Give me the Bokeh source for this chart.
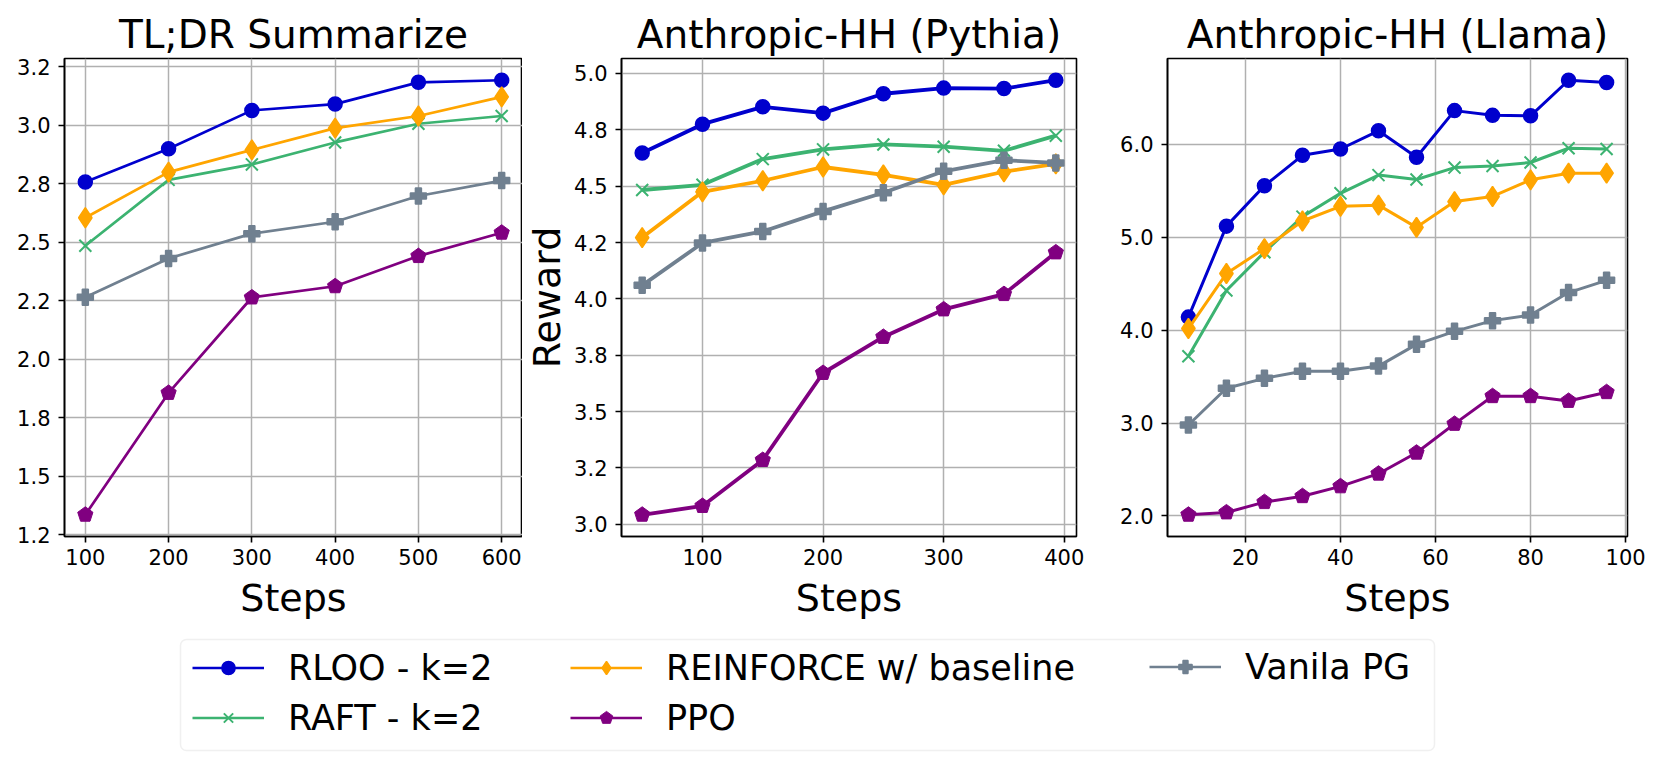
import numpy as np
from bokeh.plotting import figure
from bokeh.layouts import row, column
from bokeh.models import FixedTicker, Legend, LegendItem, BoxAnnotation, Range1d
from bokeh.embed import file_html
from bokeh.resources import INLINE

FONT = "DejaVu Sans"

# ---------------- data ----------------
series_labels = ["RLOO - k=2", "RAFT - k=2", "REINFORCE w/ baseline", "PPO", "Vanila PG"]
series_colors = ["#0000cd", "#3cb371", "#ffa500", "#800080", "#708090"]
series_markers = ["circle", "x", "diamond", "pentagon", "plus"]

tldr_steps = [100, 200, 300, 400, 500, 600]
tldr_rloo = [2.758, 2.900, 3.064, 3.091, 3.184, 3.193]
tldr_raft = [2.485, 2.767, 2.833, 2.927, 3.007, 3.040]
tldr_reinforce = [2.605, 2.800, 2.895, 2.988, 3.040, 3.122]
tldr_ppo = [1.335, 1.856, 2.264, 2.312, 2.441, 2.541]
tldr_vanilla = [2.265, 2.431, 2.537, 2.588, 2.698, 2.764]
tldr_xticks = [100, 200, 300, 400, 500, 600]
tldr_yticks = [1.25, 1.5, 1.75, 2.0, 2.25, 2.5, 2.75, 3.0, 3.25]
tldr_ytick_labels = ["1.2", "1.5", "1.8", "2.0", "2.2", "2.5", "2.8", "3.0", "3.2"]

pythia_steps = [50, 100, 150, 200, 250, 300, 350, 393]
pythia_rloo = [4.647, 4.775, 4.852, 4.824, 4.910, 4.935, 4.933, 4.970]
pythia_raft = [4.483, 4.506, 4.620, 4.663, 4.685, 4.675, 4.657, 4.724]
pythia_reinforce = [4.272, 4.475, 4.524, 4.585, 4.550, 4.506, 4.564, 4.599]
pythia_ppo = [3.042, 3.081, 3.285, 3.671, 3.831, 3.953, 4.021, 4.206]
pythia_vanilla = [4.060, 4.248, 4.299, 4.388, 4.471, 4.566, 4.615, 4.603]
pythia_xticks = [100, 200, 300, 400]
pythia_yticks = [3.0, 3.25, 3.5, 3.75, 4.0, 4.25, 4.5, 4.75, 5.0]
pythia_ytick_labels = ["3.0", "3.2", "3.5", "3.8", "4.0", "4.2", "4.5", "4.8", "5.0"]

llama_steps = [8, 16, 24, 32, 40, 48, 56, 64, 72, 80, 88, 96]
llama_rloo = [4.140, 5.119, 5.553, 5.881, 5.949, 6.145, 5.860, 6.362, 6.311, 6.306, 6.689, 6.664]
llama_raft = [3.719, 4.426, 4.838, 5.221, 5.472, 5.668, 5.621, 5.749, 5.766, 5.804, 5.957, 5.949]
llama_reinforce = [4.017, 4.609, 4.877, 5.174, 5.332, 5.345, 5.106, 5.383, 5.438, 5.617, 5.689, 5.689]
llama_ppo = [2.013, 2.038, 2.149, 2.213, 2.319, 2.455, 2.681, 2.991, 3.289, 3.289, 3.238, 3.332]
llama_vanilla = [2.979, 3.374, 3.481, 3.557, 3.557, 3.613, 3.847, 3.987, 4.102, 4.162, 4.404, 4.536]
llama_xticks = [20, 40, 60, 80, 100]
llama_yticks = [2.0, 3.0, 4.0, 5.0, 6.0]
llama_ytick_labels = ["2.0", "3.0", "4.0", "5.0", "6.0"]

PENTA_ANGLE = 0.0  # vertex pointing up

# ---------------- helpers ----------------
def padded_range(vals):
    lo, hi = float(np.min(vals)), float(np.max(vals))
    m = 0.05 * (hi - lo)
    return Range1d(lo - m, hi + m)


def add_markers(p, xs, ys, marker, color, **kw):
    if marker == "pentagon":
        try:
            return p.ngon(x=xs, y=ys, radius=8, radius_units="screen", n=5,
                          angle=PENTA_ANGLE, fill_color=color, line_color=color,
                          line_width=1, **kw)
        except Exception:
            return p.scatter(x=xs, y=ys, marker="hex", size=16,
                             fill_color=color, line_color=color, line_width=1, **kw)
    if marker == "x":
        return p.scatter(x=xs, y=ys, marker="x", size=17,
                         line_color=color, line_width=2, **kw)
    if marker == "diamond":
        return p.scatter(x=xs, y=ys, marker="diamond", size=20,
                         fill_color=color, line_color=color, line_width=1.5, **kw)
    if marker == "plus":
        return p.scatter(x=xs, y=ys, marker="plus", size=16,
                         fill_color=color, line_color=color, line_width=1.5, **kw)
    return p.scatter(x=xs, y=ys, marker="circle", size=14,
                     fill_color=color, line_color=color, line_width=1.5, **kw)


FIG_H = 630

panels = [
    dict(title="TL;DR Summarize", steps=tldr_steps,
         ys=[tldr_rloo, tldr_raft, tldr_reinforce, tldr_ppo, tldr_vanilla],
         xticks=tldr_xticks, yticks=tldr_yticks, ylabels=tldr_ytick_labels,
         width=522, bl=64, br=0, lw=2.7, ylabel=None),
    dict(title="Anthropic-HH (Pythia)", steps=pythia_steps,
         ys=[pythia_rloo, pythia_raft, pythia_reinforce, pythia_ppo, pythia_vanilla],
         xticks=pythia_xticks, yticks=pythia_yticks, ylabels=pythia_ytick_labels,
         width=594, bl=94, br=40, lw=3.8, ylabel="Reward"),
    dict(title="Anthropic-HH (Llama)", steps=llama_steps,
         ys=[llama_rloo, llama_raft, llama_reinforce, llama_ppo, llama_vanilla],
         xticks=llama_xticks, yticks=llama_yticks, ylabels=llama_ytick_labels,
         width=545, bl=51, br=34, lw=3.0, ylabel=None),
]

figs = []
for cfg in panels:
    allv = np.concatenate([np.asarray(v, dtype=float) for v in cfg["ys"]])
    p = figure(width=cfg["width"], height=FIG_H, title=cfg["title"],
               x_range=padded_range(cfg["steps"]), y_range=padded_range(allv),
               output_backend="svg", toolbar_location=None,
               min_border_left=cfg["bl"], min_border_right=cfg["br"],
               min_border_top=58, min_border_bottom=FIG_H - 58 - 478,
               background_fill_color="white", border_fill_color="white")
    p.title.text_font = FONT
    p.title.text_font_size = "39px"
    p.title.text_font_style = "normal"
    p.title.text_color = "black"
    p.title.align = "center"
    p.title.standoff = 3

    p.xaxis.ticker = FixedTicker(ticks=cfg["xticks"])
    p.yaxis.ticker = FixedTicker(ticks=cfg["yticks"])
    p.yaxis.major_label_overrides = {float(t): s for t, s in zip(cfg["yticks"], cfg["ylabels"])}
    p.xaxis.axis_label = "Steps"
    if cfg["ylabel"]:
        p.yaxis.axis_label = cfg["ylabel"]

    for ax in (p.xaxis[0], p.yaxis[0]):
        ax.major_label_text_font = FONT
        ax.major_label_text_font_size = "21px"
        ax.major_label_text_color = "black"
        ax.axis_label_text_font = FONT
        ax.axis_label_text_font_size = "38px"
        ax.axis_label_text_font_style = "normal"
        ax.axis_label_text_color = "black"
        ax.major_tick_in = 0
        ax.major_tick_out = 6
        ax.major_tick_line_width = 1.6
        ax.major_tick_line_color = "black"
        ax.minor_tick_line_color = None
        ax.axis_line_color = "black"
        ax.axis_line_width = 1.6
    p.xaxis.major_label_standoff = 6
    p.yaxis.major_label_standoff = 8
    p.xaxis.axis_label_standoff = 8
    p.yaxis.axis_label_standoff = 2

    p.grid.grid_line_color = "#b0b0b0"
    p.grid.grid_line_width = 1.5
    p.outline_line_color = "black"
    p.outline_line_width = 1.6

    for yv, color, marker in zip(cfg["ys"], series_colors, series_markers):
        p.line(x=cfg["steps"], y=yv, line_color=color, line_width=cfg["lw"])
        add_markers(p, cfg["steps"], yv, marker, color)
    figs.append(p)

# ---------------- legend strip ----------------
LEG_W, LEG_H = 1661, 766 - FIG_H
pl = figure(width=LEG_W, height=LEG_H, x_range=Range1d(0, LEG_W), y_range=Range1d(0, LEG_H),
            output_backend="svg", toolbar_location=None,
            x_axis_location=None, y_axis_location=None, min_border=0,
            outline_line_color=None, background_fill_color="white",
            border_fill_color="white")
pl.xgrid.visible = False
pl.ygrid.visible = False

frame_box = BoxAnnotation(left=180, right=1434, bottom=LEG_H - 120, top=LEG_H - 9,
                          fill_color="white", fill_alpha=1.0,
                          line_color="#cccccc", line_width=1.5, border_radius=6)
pl.add_layout(frame_box)

# legend proxies: real series (hidden) so the legend has something to draw
proxy_ys = [tldr_rloo, tldr_raft, tldr_reinforce, tldr_ppo, tldr_vanilla]
items = []
for label, color, marker, yv in zip(series_labels, series_colors, series_markers, proxy_ys):
    lr = pl.line(x=tldr_steps, y=yv, line_color=color, line_width=2.3, visible=False)
    mr = add_markers(pl, tldr_steps, yv, marker, color, visible=False)
    items.append(LegendItem(label=label, renderers=[lr, mr]))

col_items = [[items[0], items[1]], [items[2], items[3]], [items[4]]]
col_x = [192, 570, 1149]
ITEM_H, SPACING = 41, 10
ROW1_CENTER = 36
for its, x in zip(col_items, col_x):
    k = len(its)
    top = ROW1_CENTER - ITEM_H / 2
    height = k * ITEM_H + (k - 1) * SPACING
    ybot = LEG_H - (top + height)
    leg = Legend(items=its, location=(x, ybot), orientation="vertical",
                 padding=0, margin=0, spacing=SPACING,
                 glyph_width=72, glyph_height=33, label_standoff=24,
                 label_text_font=FONT, label_text_font_size="35px",
                 label_text_color="black",
                 inactive_fill_alpha=0.0,
                 border_line_color=None, background_fill_alpha=0)
    pl.add_layout(leg)

layout = column(row(*figs), pl)
open("out.html", "w").write(file_html(layout, INLINE))
